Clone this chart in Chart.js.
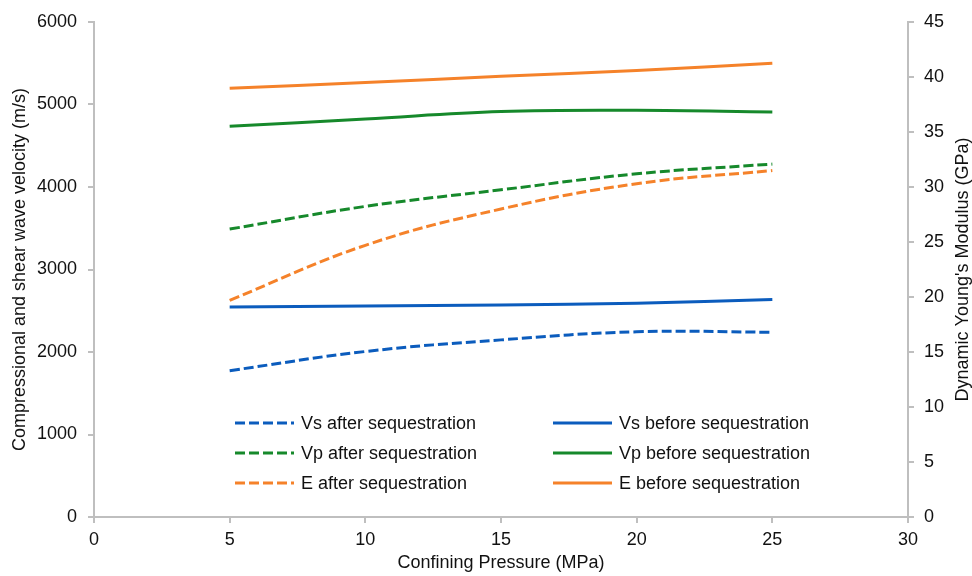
<!DOCTYPE html>
<html>
<head>
<meta charset="utf-8">
<script src="https://cdn.jsdelivr.net/npm/chart.js@4.4.1/dist/chart.umd.min.js"></script>
<style>
  html, body { margin: 0; padding: 0; background: #fff; }
  #wrap { width: 972px; height: 576px; }
</style>
</head>
<body>
<div id="wrap"><canvas id="grafico"></canvas></div>
<script>
// confining pressure (MPa)
const pressao = [5, 10, 15, 20, 25];

// velocities (m/s)
const vsDepois = [1774, 2006, 2147, 2245, 2240];
const vpDepois = [3490, 3765, 3966, 4160, 4278];
const vsAntes = [2545, 2558, 2571, 2592, 2635];
const vpAntes = [4735, 4825, 4915, 4930, 4910];

// dynamic Young's modulus (GPa)
const eDepois = [19.7, 24.7, 28.0, 30.3, 31.5];
const eAntes = [38.97, 39.5, 40.06, 40.6, 41.25];

const azul = '#0b5cbd';
const verde = '#16892b';
const laranja = '#f5822a';
const corTexto = '#111111';
const corEixo = '#bfbfbf';
const fonte = 'Liberation Sans, Arial, sans-serif';
const tamanho = 18;

function pontos(valores) {
    return pressao.map((p, i) => ({ x: p, y: valores[i] }));
}

function serie(label, valores, cor, tracejado, eixo) {
    return {
        label: label,
        data: pontos(valores),
        borderColor: cor,
        backgroundColor: cor,
        borderWidth: 3,
        borderDash: tracejado ? [10, 4] : [],
        borderCapStyle: 'butt',
        pointRadius: 0,
        tension: 0.4,
        fill: false,
        yAxisID: eixo
    };
}

// legend drawn inside the plot, two columns (after | before)
const legendaInterna = {
    id: 'legendaInterna',
    afterDraw(chart) {
        const ctx = chart.ctx;
        const colunas = [235, 553];
        const linhas = [424, 454, 484];
        ctx.save();
        ctx.font = tamanho + 'px ' + fonte;
        ctx.textBaseline = 'middle';
        ctx.textAlign = 'left';
        chart.data.datasets.forEach((ds, i) => {
            const x = colunas[Math.floor(i / 3)];
            const y = linhas[i % 3];
            ctx.strokeStyle = ds.borderColor;
            ctx.lineWidth = 3;
            ctx.setLineDash(ds.borderDash);
            ctx.beginPath();
            ctx.moveTo(x, y - 1);
            ctx.lineTo(x + 59, y - 1);
            ctx.stroke();
            ctx.setLineDash([]);
            ctx.fillStyle = corTexto;
            ctx.fillText(ds.label, x + 66, y);
        });
        ctx.restore();
    }
};

// right axis title reads bottom-to-top like the left one
const tituloDireita = {
    id: 'tituloDireita',
    afterDraw(chart) {
        const ctx = chart.ctx;
        const area = chart.chartArea;
        ctx.save();
        ctx.translate(963, (area.top + area.bottom) / 2);
        ctx.rotate(-Math.PI / 2);
        ctx.font = tamanho + 'px ' + fonte;
        ctx.fillStyle = corTexto;
        ctx.textAlign = 'center';
        ctx.textBaseline = 'middle';
        ctx.fillText("Dynamic Young's Modulus (GPa)", 0, 0);
        ctx.restore();
    }
};

const semSeparador = v => String(v);

const ctx = document.getElementById('grafico').getContext('2d');
new Chart(ctx, {
    type: 'line',
    data: {
        datasets: [
            serie('Vs after sequestration', vsDepois, azul, true, 'y'),
            serie('Vp after sequestration', vpDepois, verde, true, 'y'),
            serie('E after sequestration', eDepois, laranja, true, 'y1'),
            serie('Vs before sequestration', vsAntes, azul, false, 'y'),
            serie('Vp before sequestration', vpAntes, verde, false, 'y'),
            serie('E before sequestration', eAntes, laranja, false, 'y1')
        ]
    },
    options: {
        responsive: true,
        maintainAspectRatio: false,
        animation: false,
        layout: { padding: { top: 22, left: 0, right: 0, bottom: 0 } },
        plugins: {
            legend: { display: false },
            tooltip: { enabled: false }
        },
        scales: {
            x: {
                type: 'linear',
                min: 0,
                max: 30,
                afterFit: s => { s.height = 59; },
                ticks: { stepSize: 5, padding: 6, color: corTexto, font: { size: tamanho, family: fonte }, callback: semSeparador },
                grid: { drawOnChartArea: false, drawTicks: true, tickLength: 6, color: corEixo, lineWidth: 2 },
                border: { color: corEixo, width: 2 },
                title: {
                    display: true,
                    text: 'Confining Pressure (MPa)',
                    color: corTexto,
                    font: { size: tamanho, family: fonte },
                    padding: { top: 0, bottom: 2 }
                }
            },
            y: {
                position: 'left',
                min: 0,
                max: 6000,
                afterFit: s => { s.width = 94; },
                ticks: { stepSize: 1000, padding: 11, color: corTexto, font: { size: tamanho, family: fonte }, callback: semSeparador },
                grid: { drawOnChartArea: false, drawTicks: true, tickLength: 6, color: corEixo, lineWidth: 2 },
                border: { color: corEixo, width: 2 },
                title: {
                    display: true,
                    text: 'Compressional and shear wave velocity (m/s)',
                    color: corTexto,
                    font: { size: tamanho, family: fonte },
                    padding: { top: 9, bottom: 0 }
                }
            },
            y1: {
                position: 'right',
                min: 0,
                max: 45,
                afterFit: s => { s.width = 64; },
                ticks: { stepSize: 5, padding: 10, color: corTexto, font: { size: tamanho, family: fonte }, callback: semSeparador },
                grid: { drawOnChartArea: false, drawTicks: true, tickLength: 6, color: corEixo, lineWidth: 2 },
                border: { color: corEixo, width: 2 }
            }
        }
    },
    plugins: [legendaInterna, tituloDireita]
});
</script>
</body>
</html>
